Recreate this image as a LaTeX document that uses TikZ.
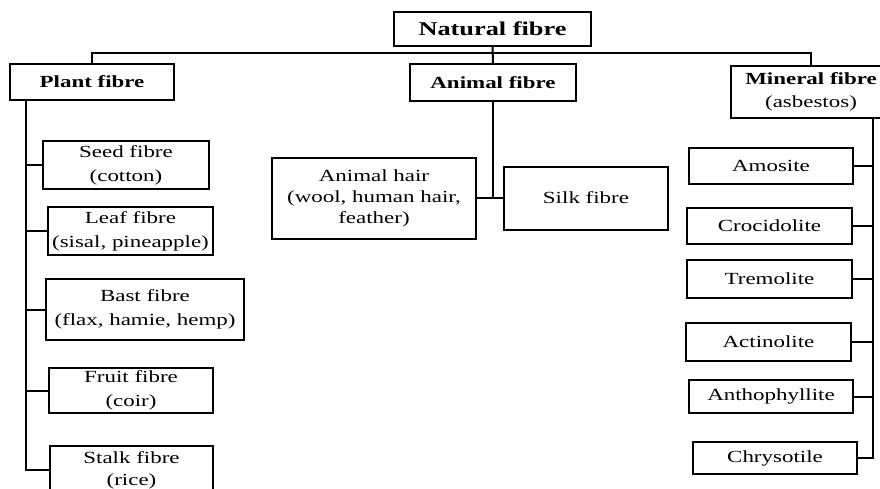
\documentclass[tikz,border=0pt]{standalone}
\usepackage{fontspec}
\setmainfont{Liberation Serif}[FakeStretch=1.35]
\usetikzlibrary{calc}

\begin{document}
\begin{tikzpicture}[
    x=1pt, y=-1pt,
    every node/.style={font=\fontsize{17}{24}\selectfont, align=center, inner sep=0pt},
    root/.style={draw, line width=2pt, font=\fontsize{19.5}{24}\selectfont\bfseries},
    group/.style={draw, line width=2pt, font=\fontsize{17}{23}\selectfont\bfseries},
    item/.style={draw, line width=2pt},
    link/.style={line width=2pt}
]
\useasboundingbox (0,0) rectangle (880,488);

% top levels
\node[root, minimum width=197pt, minimum height=34pt] (natural) at (492.5,29) {Natural fibre};
\node[group, minimum width=164pt, minimum height=36pt] (plant) at (92,82) {Plant fibre};
\node[group, minimum width=166pt, minimum height=37pt] (animal) at (493,82.5) {Animal fibre};
\node[item, minimum width=160pt, minimum height=52pt, font=\fontsize{17}{23}\selectfont] (mineral) at (811,92) {\textbf{Mineral fibre}\\(asbestos)};

% plant fibres
\node[item, minimum width=166pt, minimum height=48pt] (seed) at (126,165) {Seed fibre\\(cotton)};
\node[item, minimum width=165pt, minimum height=48pt] (leaf) at (130.5,231) {Leaf fibre\\(sisal, pineapple)};
\node[item, minimum width=198pt, minimum height=61pt] (bast) at (145,309.5) {Bast fibre\\(flax, hamie, hemp)};
\node[item, minimum width=164pt, minimum height=45pt] (fruit) at (131,390.5) {Fruit fibre\\(coir)};
\node[item, minimum width=163pt, minimum height=48pt, font=\fontsize{17}{22}\selectfont] (stalk) at (131.5,470) {Stalk fibre\\(rice)};

% animal fibres
\node[item, minimum width=204pt, minimum height=81pt, font=\fontsize{17}{21}\selectfont] (hair) at (374,198) {Animal hair\\(wool, human hair,\\feather)};
\node[item, minimum width=164pt, minimum height=63pt] (silk) at (586,198) {Silk fibre};

% mineral fibres
\node[item, minimum width=164pt, minimum height=36pt] (amosite) at (771,166) {Amosite};
\node[item, minimum width=165pt, minimum height=36pt] (crocidolite) at (769.5,226) {Crocidolite};
\node[item, minimum width=165pt, minimum height=38pt] (tremolite) at (769.5,279) {Tremolite};
\node[item, minimum width=165pt, minimum height=38pt] (actinolite) at (768.5,342) {Actinolite};
\node[item, minimum width=164pt, minimum height=33pt] (anthophyllite) at (771,396.5) {Anthophyllite};
\node[item, minimum width=164pt, minimum height=32pt] (chrysotile) at (775,458) {Chrysotile};

% connectors
\coordinate (bus) at (493,53);
\draw[link] (natural.south) -- (animal.north);
\draw[link] (plant.north) |- (bus) -| (mineral.north);

\coordinate (ptrunk) at ([xshift=17pt]plant.south west);
\draw[link] (ptrunk) |- (stalk.west);
\foreach \n in {seed,leaf,bast,fruit}
    \draw[link] (\n.west) -- (\n.west -| ptrunk);

\draw[link] (animal.south) -- (animal.south |- hair.east);
\draw[link] (hair.east) -- (silk.west);

\coordinate (mtrunk) at ([xshift=62pt]mineral.south);
\draw[link] (mtrunk) |- (chrysotile.east);
\foreach \n in {amosite,crocidolite,tremolite,actinolite,anthophyllite}
    \draw[link] (\n.east) -- (\n.east -| mtrunk);

\end{tikzpicture}
\end{document}
